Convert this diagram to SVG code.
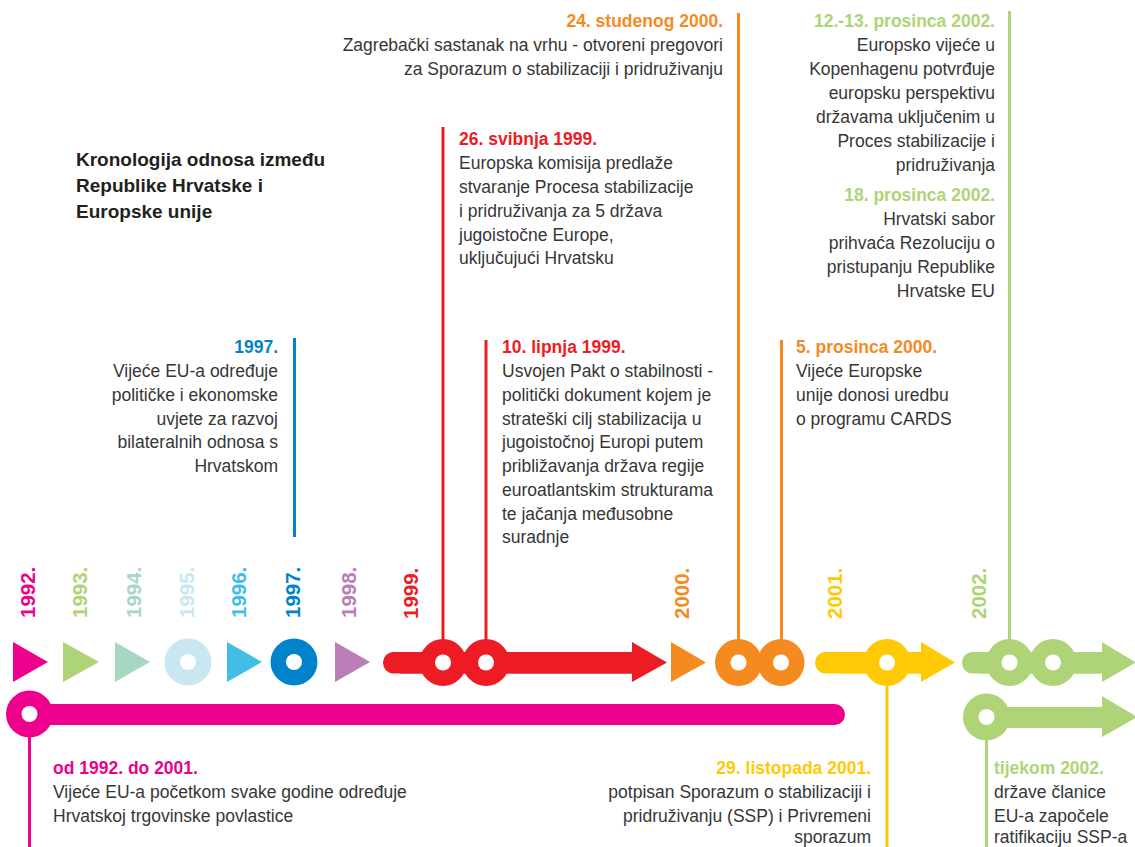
<svg xmlns="http://www.w3.org/2000/svg" width="1135" height="847" viewBox="0 0 1135 847">
<style>
text{font-family:"Liberation Sans",Arial,sans-serif}
.b{font-size:17.5px;fill:#363636}
.h{font-size:17.5px;font-weight:bold}
.yr{font-size:20.5px;font-weight:bold}
.e{text-anchor:end}
.t{font-size:19px;font-weight:bold;fill:#231f20}
.hole{fill:#fff}
.pk{fill:#EC008C}.rd{fill:#ED1C24}.or{fill:#F58A1F}.ye{fill:#FFCA05}.gr{fill:#AED477}
.vl{stroke-width:3;fill:none}
</style>
<rect width="1135" height="847" fill="#fff"/>
<g id="title">
<text class="t" x="76" y="166">Kronologija odnosa između</text>
<text class="t" x="76" y="192">Republike Hrvatske i</text>
<text class="t" x="76" y="218">Europske unije</text>
</g>
<g id="connectors">
<line class="vl" x1="294.5" y1="338" x2="294.5" y2="537" stroke="#0083CA"/>
<line class="vl" x1="443" y1="127" x2="443" y2="662" stroke="#ED1C24"/>
<line class="vl" x1="486" y1="340" x2="486" y2="662" stroke="#ED1C24"/>
<line class="vl" x1="738.5" y1="13" x2="738.5" y2="662" stroke="#F58A1F"/>
<line class="vl" x1="781.5" y1="340" x2="781.5" y2="662" stroke="#F58A1F"/>
<line class="vl" x1="887" y1="662" x2="887" y2="847" stroke="#FFCA05"/>
<line class="vl" x1="1009.5" y1="11" x2="1009.5" y2="662" stroke="#AED477"/>
<line class="vl" x1="986.5" y1="717" x2="986.5" y2="847" stroke="#AED477"/>
<line class="vl" x1="29.5" y1="714" x2="29.5" y2="847" stroke="#EC008C"/>
</g>
<g id="y1992">
<text class="yr pk" transform="translate(35,618) rotate(-90)">1992.</text>
<polygon class="pk" points="13,642 48,662 13,682"/>
</g>
<g id="y1993">
<text class="yr" fill="#AED477" transform="translate(87,618) rotate(-90)">1993.</text>
<polygon fill="#AED477" points="63,642 99,662 63,682"/>
</g>
<g id="y1994">
<text class="yr" fill="#A6D8C0" transform="translate(141,618) rotate(-90)">1994.</text>
<polygon fill="#A6D8C0" points="115,642 150,662 115,682"/>
</g>
<g id="y1995">
<text class="yr" fill="#C8E7F0" transform="translate(194,618) rotate(-90)">1995.</text>
<circle cx="188" cy="662" r="23.5" fill="#C8E7F0"/>
<circle class="hole" cx="188" cy="662" r="8"/>
</g>
<g id="y1996">
<text class="yr" fill="#41BDE6" transform="translate(246,618) rotate(-90)">1996.</text>
<polygon fill="#41BDE6" points="227,642 262,662 227,682"/>
</g>
<g id="y1997">
<text class="yr" fill="#0083CA" transform="translate(300,618) rotate(-90)">1997.</text>
<circle cx="294" cy="662" r="23.5" fill="#0083CA"/>
<circle class="hole" cx="294" cy="662" r="8"/>
</g>
<g id="y1998">
<text class="yr" fill="#B97DB8" transform="translate(356,618) rotate(-90)">1998.</text>
<polygon fill="#B97DB8" points="335,642 370,662 335,682"/>
</g>
<g id="y1999">
<text class="yr rd" transform="translate(418,619) rotate(-90)">1999.</text>
<rect class="rd" x="383" y="652" width="260" height="21.5" rx="10.5"/>
<rect class="rd" x="400" y="652" width="235" height="21.5"/>
<polygon class="rd" points="632,642 667,662.5 632,682"/>
<circle class="rd" cx="443" cy="662.5" r="23.5"/>
<circle class="rd" cx="486" cy="662.5" r="23.5"/>
<circle class="hole" cx="443" cy="662.5" r="8"/>
<circle class="hole" cx="486" cy="662.5" r="8"/>
</g>
<g id="y2000">
<text class="yr or" transform="translate(689,619) rotate(-90)">2000.</text>
<polygon class="or" points="671,642 706,662.5 671,682"/>
<circle class="or" cx="738.5" cy="662.5" r="23.5"/>
<circle class="or" cx="781" cy="662.5" r="23.5"/>
<circle class="hole" cx="738.5" cy="662.5" r="8"/>
<circle class="hole" cx="781" cy="662.5" r="8"/>
</g>
<g id="y2001">
<text class="yr ye" transform="translate(842,619) rotate(-90)">2001.</text>
<rect class="ye" x="815" y="652" width="120" height="21.5" rx="10.5"/>
<rect class="ye" x="840" y="652" width="83" height="21.5"/>
<polygon class="ye" points="921,642 955,662.5 921,682"/>
<circle class="ye" cx="887" cy="662.5" r="23.5"/>
<circle class="hole" cx="887" cy="662.5" r="8"/>
</g>
<g id="y2002">
<text class="yr gr" transform="translate(986,619) rotate(-90)">2002.</text>
<rect class="gr" x="962" y="652" width="160" height="21.5" rx="10.5"/>
<rect class="gr" x="980" y="652" width="124" height="21.5"/>
<polygon class="gr" points="1102,642 1136,662.5 1102,682"/>
<circle class="gr" cx="1009.5" cy="662.5" r="23.5"/>
<circle class="gr" cx="1053" cy="662.5" r="23.5"/>
<circle class="hole" cx="1009.5" cy="662.5" r="8"/>
<circle class="hole" cx="1053" cy="662.5" r="8"/>
</g>
<g id="y2002b">
<rect class="gr" x="990" y="707" width="114" height="21"/>
<polygon class="gr" points="1102,696 1137,717 1102,737"/>
<circle class="gr" cx="986.5" cy="717" r="23.5"/>
<circle class="hole" cx="986.5" cy="717" r="8"/>
</g>
<g id="span1992">
<rect class="pk" x="29" y="704" width="816" height="21" rx="10.5"/>
<circle class="pk" cx="29.5" cy="714" r="23.5"/>
<circle class="hole" cx="29.5" cy="714" r="8"/>
</g>
<g id="ev1997">
<text class="h e" x="278" y="353" fill="#0083CA">1997.</text>
<text class="b e" x="278" y="377">Vijeće EU-a određuje</text>
<text class="b e" x="278" y="401">političke i ekonomske</text>
<text class="b e" x="278" y="425">uvjete za razvoj</text>
<text class="b e" x="278" y="448">bilateralnih odnosa s</text>
<text class="b e" x="278" y="472">Hrvatskom</text>
</g>
<g id="ev1999a">
<text class="h rd" x="459" y="145">26. svibnja 1999.</text>
<text class="b" x="459" y="169">Europska komisija predlaže</text>
<text class="b" x="459" y="193">stvaranje Procesa stabilizacije</text>
<text class="b" x="459" y="217">i pridruživanja za 5 država</text>
<text class="b" x="459" y="241">jugoistočne Europe,</text>
<text class="b" x="459" y="264">uključujući Hrvatsku</text>
</g>
<g id="ev1999b">
<text class="h rd" x="502" y="353">10. lipnja 1999.</text>
<text class="b" x="502" y="377">Usvojen Pakt o stabilnosti -</text>
<text class="b" x="502" y="401">politički dokument kojem je</text>
<text class="b" x="502" y="425">strateški cilj stabilizacija u</text>
<text class="b" x="502" y="448">jugoistočnoj Europi putem</text>
<text class="b" x="502" y="472">približavanja država regije</text>
<text class="b" x="502" y="496">euroatlantskim strukturama</text>
<text class="b" x="502" y="520">te jačanja međusobne</text>
<text class="b" x="502" y="543">suradnje</text>
</g>
<g id="ev2000a">
<text class="h e or" x="723" y="27">24. studenog 2000.</text>
<text class="b e" x="723" y="51">Zagrebački sastanak na vrhu - otvoreni pregovori</text>
<text class="b e" x="723" y="75">za Sporazum o stabilizaciji i pridruživanju</text>
</g>
<g id="ev2000b">
<text class="h or" x="796" y="353">5. prosinca 2000.</text>
<text class="b" x="796" y="377">Vijeće Europske</text>
<text class="b" x="796" y="401">unije donosi uredbu</text>
<text class="b" x="796" y="425">o programu CARDS</text>
</g>
<g id="ev2002a">
<text class="h e gr" x="995" y="27">12.-13. prosinca 2002.</text>
<text class="b e" x="995" y="51">Europsko vijeće u</text>
<text class="b e" x="995" y="75">Kopenhagenu potvrđuje</text>
<text class="b e" x="995" y="99">europsku perspektivu</text>
<text class="b e" x="995" y="123">državama uključenim u</text>
<text class="b e" x="995" y="147">Proces stabilizacije i</text>
<text class="b e" x="995" y="171">pridruživanja</text>
</g>
<g id="ev2002b">
<text class="h e gr" x="995" y="201">18. prosinca 2002.</text>
<text class="b e" x="995" y="225">Hrvatski sabor</text>
<text class="b e" x="995" y="249">prihvaća Rezoluciju o</text>
<text class="b e" x="995" y="273">pristupanju Republike</text>
<text class="b e" x="995" y="297">Hrvatske EU</text>
</g>
<g id="ev1992">
<text class="h pk" x="53" y="774">od 1992. do 2001.</text>
<text class="b" x="53" y="798">Vijeće EU-a početkom svake godine određuje</text>
<text class="b" x="53" y="822">Hrvatskoj trgovinske povlastice</text>
</g>
<g id="ev2001">
<text class="h e ye" x="871" y="774">29. listopada 2001.</text>
<text class="b e" x="871" y="798">potpisan Sporazum o stabilizaciji i</text>
<text class="b e" x="871" y="822">pridruživanju (SSP) i Privremeni</text>
<text class="b e" x="871" y="843">sporazum</text>
</g>
<g id="ev2002c">
<text class="h gr" x="994" y="774">tijekom 2002.</text>
<text class="b" x="994" y="798">države članice</text>
<text class="b" x="994" y="822">EU-a započele</text>
<text class="b" x="994" y="843">ratifikaciju SSP-a</text>
</g>
</svg>
